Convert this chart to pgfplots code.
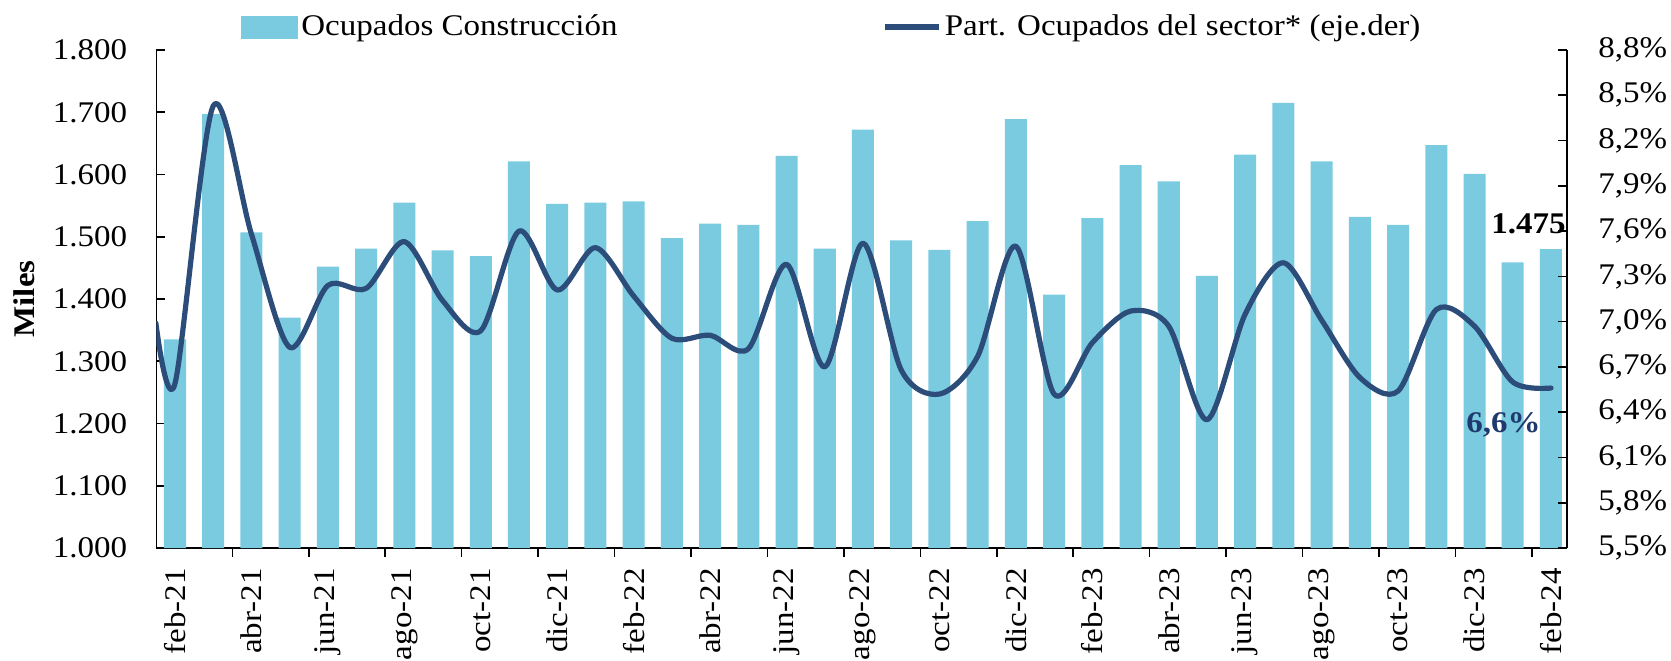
\documentclass[border=0pt]{standalone}
\usepackage{pgfplots}
\pgfplotsset{compat=1.18}
\usepackage{fontspec}
\setmainfont{Liberation Serif}[FakeStretch=1.1]

\definecolor{barc}{HTML}{7ACBE0}
\definecolor{linec}{HTML}{2C4D7A}
\definecolor{labc}{HTML}{1F3A6E}

\pgfplotsset{
  twin/.style={
    scale only axis, width=705.25pt, height=249pt,
    xmin=-0.484, xmax=36.42,
    tick align=inside, major tick length=4.5pt,
    axis line style={line width=0.8pt},
    tick style={line width=0.8pt, black},
    /pgf/number format/assume math mode=true,
  },
}

\begin{document}
\fontsize{15pt}{18pt}\selectfont
\begin{tikzpicture}
\path[use as bounding box] (-78.25pt,-56pt) rectangle (757.25pt,274pt);

% barras: ocupados (miles)
\begin{axis}[twin,
  ybar, bar width=0.576,
  ymin=1000, ymax=1800,
  axis x line*=bottom, axis y line*=left,
  ytick={1000,1100,...,1800}, scaled y ticks=false,
  /pgf/number format/1000 sep={.},
  yticklabel style={anchor=east, inner sep=0pt, xshift=-14.5pt},
  xtick={0,2,...,36},
  xticklabels={feb-21,abr-21,jun-21,ago-21,oct-21,dic-21,feb-22,abr-22,jun-22,ago-22,oct-22,dic-22,feb-23,abr-23,jun-23,ago-23,oct-23,dic-23,feb-24},
  major x tick style={draw=none},
  minor xtick={1.5,3.5,...,35.5}, minor tick length=4.5pt,
  xticklabel style={yshift=-5.5pt, rotate=90, anchor=east, inner sep=0pt},
  every axis y label/.style={at={(axis description cs:0,0.5)}, xshift=-66pt, rotate=90, anchor=center, font=\bfseries},
  ylabel={Miles},
  legend columns=2,
  legend style={at={(axis description cs:0.0599,1)}, anchor=west, yshift=11.5pt,
    draw=none, fill=none, inner sep=0pt,
    nodes={inner sep=1.5pt},
    /tikz/every even column/.append style={column sep=131pt}},
  legend cell align=left,
]
\addplot[fill=barc, draw=none,
  legend image code/.code={\fill[barc] (0pt,-5.75pt) rectangle (28.5pt,5.75pt);}]
  coordinates {
  (0,1335) (1,1697) (2,1507) (3,1370) (4,1452) (5,1481) (6,1555) (7,1478)
  (8,1469) (9,1621) (10,1553) (11,1555) (12,1557) (13,1498) (14,1521) (15,1519)
  (16,1630) (17,1481) (18,1672) (19,1494) (20,1479) (21,1525) (22,1689) (23,1407)
  (24,1530) (25,1615) (26,1589) (27,1437) (28,1632) (29,1715) (30,1621) (31,1532)
  (32,1519) (33,1647) (34,1601) (35,1459) (36,1480)};
\addlegendentry{Ocupados Construcción}
\addlegendimage{legend image code/.code={\draw[linec, line width=2.6pt] (0pt,0pt) -- (27pt,0pt);}}
\addlegendentry{Part. Ocupados del sector* (eje.der)}
\node[font=\bfseries] at (axis cs:35.41,1521) {1.475};
\end{axis}

% linea: participacion (eje derecho)
\begin{axis}[twin,
  ymin=5.5, ymax=8.8,
  axis y line*=right, axis x line=none,
  ytick={5.5,5.8,6.1,6.4,6.7,7.0,7.3,7.6,7.9,8.2,8.5,8.8},
  /pgf/number format/.cd, fixed, fixed zerofill, precision=1, use comma, /pgfplots/.cd,
  yticklabel={\pgfmathprintnumber{\tick}\%},
  yticklabel style={anchor=west, inner sep=0pt, xshift=15.5pt},
]
\addplot[linec, line width=2.6pt, smooth, tension=0.5, line join=round, line cap=round]
  coordinates {
  (-0.5,6.99) (0,6.59) (1,8.43) (2,7.58) (3,6.83) (4,7.24) (5,7.22) (6,7.53)
  (7,7.14) (8,6.94) (9,7.60) (10,7.21) (11,7.49) (12,7.17) (13,6.89) (14,6.91)
  (15,6.82) (16,7.38) (17,6.70) (18,7.52) (19,6.68) (20,6.52) (21,6.77) (22,7.50)
  (23,6.52) (24,6.86) (25,7.07) (26,6.97) (27,6.35) (28,7.05) (29,7.39) (30,7.01)
  (31,6.63) (32,6.54) (33,7.08) (34,6.97) (35,6.60) (36,6.56)};
\node[font=\bfseries, text=labc] at (axis cs:34.76,6.315) {6,6\%};
\end{axis}
\end{tikzpicture}
\end{document}
